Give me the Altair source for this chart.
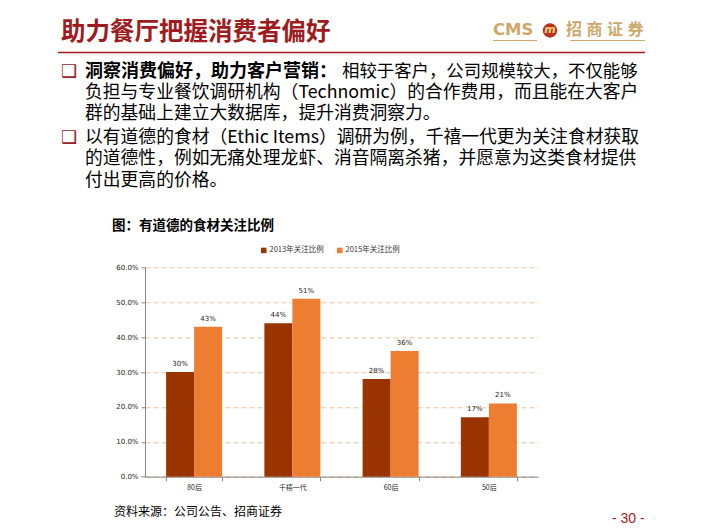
import altair as alt
import pandas as pd

categories = ["80后", "千禧一代", "60后", "50后"]
series = ["2013年关注比例", "2015年关注比例"]
values_2013 = [0.30, 0.44, 0.28, 0.17]
values_2015 = [0.43, 0.51, 0.36, 0.21]
y_ticks = [0, 0.1, 0.2, 0.3, 0.4, 0.5, 0.6]
colors = ["#993300", "#ED7D31"]

rows = []
for c, a, b in zip(categories, values_2013, values_2015):
    rows.append({"cat": c, "series": series[0], "value": a})
    rows.append({"cat": c, "series": series[1], "value": b})
df = pd.DataFrame(rows)

CJK = "Noto Sans CJK SC"
DARKRED = "#9E1B1E"
GOLD = "#CDA86A"

OX, OY = 145, 267.3
W, H = 393, 209.4

x = alt.X("cat:N", sort=categories, title=None,
          scale=alt.Scale(paddingInner=0.43, paddingOuter=0.215),
          axis=alt.Axis(labelAngle=0, tickBand="extent", tickSize=4,
                        domainColor="#868686", tickColor="#868686",
                        labelFontSize=7, labelFont=CJK, labelColor="#222",
                        labelPadding=3, grid=False))
xo = alt.XOffset("series:N", sort=series,
                 scale=alt.Scale(paddingInner=0, paddingOuter=0))
y = alt.Y("value:Q", title=None,
          scale=alt.Scale(domain=[0, 0.6], nice=False),
          axis=alt.Axis(values=y_ticks, format=".1%", tickSize=4,
                        domainColor="#868686", tickColor="#868686",
                        labelFontSize=7, labelFont="DejaVu Sans", labelColor="#222",
                        labelPadding=3, grid=True, gridColor="#F0C4A0",
                        gridDash=[5, 3], gridWidth=1))

base = alt.Chart(df)
bars = base.mark_bar().encode(
    x=x, xOffset=xo, y=y,
    color=alt.Color("series:N", sort=series,
                    scale=alt.Scale(domain=series, range=colors),
                    legend=alt.Legend(orient="none", legendX=115, legendY=-21,
                                      direction="horizontal", title=None,
                                      symbolType="square", symbolSize=30,
                                      symbolStrokeWidth=0,
                                      labelFontSize=7.5, labelFont=CJK,
                                      labelColor="#333", columnPadding=12,
                                      labelOffset=2)),
)
labels = base.mark_text(baseline="bottom", dy=-5, fontSize=7,
                        font="DejaVu Sans", color="#222").encode(
    x=x, xOffset=xo, y=y, text=alt.Text("value:Q", format=".0%"))

dummy = pd.DataFrame({"k": [0]})


def txt(s, ax, ay, size, color="#000", weight="normal", font=CJK,
        align="left", baseline="middle", **kw):
    return alt.Chart(dummy).mark_text(
        text=s, fontSize=size, color=color, fontWeight=weight, font=font,
        align=align, baseline=baseline, **kw).encode(
        x=alt.value(ax - OX), y=alt.value(ay - OY))


def rule(x1, x2, yy, color, w=1):
    return alt.Chart(dummy).mark_rule(color=color, strokeWidth=w).encode(
        x=alt.value(x1 - OX), x2=alt.value(x2 - OX), y=alt.value(yy - OY))


layers = [bars, labels]

# slide header
layers.append(txt("助力餐厅把握消费者偏好", 61, 33, 24.5, DARKRED, "bold"))
layers.append(rule(58, 645, 52.5, DARKRED, 1.3))
layers.append(txt("CMS", 493, 30, 16.5, GOLD, "bold", font="DejaVu Sans"))
layers.append(rule(493, 537, 40.5, GOLD, 1))
layers.append(rule(570, 645, 40.5, GOLD, 1))
layers.append(alt.Chart(dummy).mark_point(shape="circle", filled=True, size=210,
                                          color="#B8321E", opacity=1).encode(
    x=alt.value(550 - OX), y=alt.value(30.5 - OY)))
layers.append(txt("m", 550, 30, 11, "#F6D37A", "bold", font="DejaVu Sans",
                  align="center", fontStyle="italic"))
for i, ch in enumerate("招商证券"):
    layers.append(txt(ch, 574 + 20.5 * i, 30, 16, GOLD, "bold", align="center"))

# bullets
layers.append(txt("❑", 61, 72, 18, DARKRED, font="DejaVu Sans"))
layers.append(txt("❑", 61, 138, 18, DARKRED, font="DejaVu Sans"))
layers.append(txt("洞察消费偏好，助力客户营销：", 85, 72, 18, "#000", "bold"))
layers.append(txt("相较于客户，公司规模较大，不仅能够", 342, 72, 17.4))
layers.append(txt("负担与专业餐饮调研机构（Technomic）的合作费用，而且能在大客户", 85, 93, 17.8))
layers.append(txt("群的基础上建立大数据库，提升消费洞察力。", 85, 114, 17.8))
layers.append(txt("以有道德的食材（Ethic Items）调研为例，千禧一代更为关注食材获取", 85, 138, 17.8))
layers.append(txt("的道德性，例如无痛处理龙虾、消音隔离杀猪，并愿意为这类食材提供", 85, 159, 17.8))
layers.append(txt("付出更高的价格。", 85, 181, 17.8))

# chart title and footer
layers.append(txt("图：有道德的食材关注比例", 112, 226, 13.5, "#000", "bold"))
layers.append(txt("资料来源：公司公告、招商证券", 114, 512, 12))
layers.append(txt("- 30 -", 612, 519, 14, DARKRED, font="Liberation Sans"))

chart = alt.layer(*layers).properties(
    width=W, height=H,
    padding={"left": OX, "top": OY, "right": 702 - OX - W, "bottom": 529 - OY - H},
    autosize=alt.AutoSizeParams(type="none"),
    background="white",
).configure_view(stroke=None)

chart.save("out.html", embed_options={"renderer": "svg", "actions": False})
